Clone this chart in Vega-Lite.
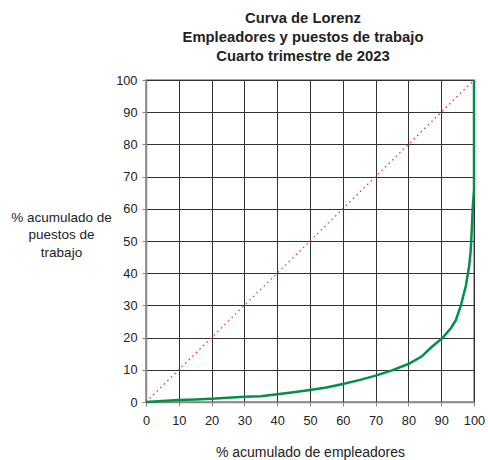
{
  "$schema": "https://vega.github.io/schema/vega-lite/v6.json",
  "autosize": "none",
  "width": 328,
  "height": 322,
  "padding": {"left": 146, "top": 80, "right": 14, "bottom": 58},
  "background": "white",
  "config": {
    "font": "Liberation Sans",
    "view": {"stroke": "#888888", "strokeWidth": 1.5}
  },
  "title": {
    "text": ["Curva de Lorenz", "Empleadores y puestos de trabajo", "Cuarto trimestre de 2023"],
    "fontSize": 14.8,
    "fontWeight": "bold",
    "color": "#222222",
    "lineHeight": 19,
    "anchor": "middle",
    "dx": -7,
    "offset": 10
  },
  "datasets": {
    "lorenz": [
      {"x": 0, "y": 0}, {"x": 5, "y": 0.3}, {"x": 10, "y": 0.6}, {"x": 15, "y": 0.8},
      {"x": 20, "y": 1.0}, {"x": 25, "y": 1.3}, {"x": 30, "y": 1.6}, {"x": 35, "y": 1.8},
      {"x": 40, "y": 2.4}, {"x": 45, "y": 3.0}, {"x": 50, "y": 3.7}, {"x": 55, "y": 4.5},
      {"x": 60, "y": 5.6}, {"x": 65, "y": 6.8}, {"x": 70, "y": 8.2}, {"x": 75, "y": 9.8},
      {"x": 80, "y": 11.8}, {"x": 84, "y": 14.1}, {"x": 87, "y": 17}, {"x": 90.5, "y": 20},
      {"x": 93, "y": 23}, {"x": 94.5, "y": 25.5}, {"x": 96, "y": 30}, {"x": 97.5, "y": 36},
      {"x": 98.5, "y": 42}, {"x": 99, "y": 47}, {"x": 99.3, "y": 53}, {"x": 99.6, "y": 60},
      {"x": 100, "y": 66}, {"x": 100, "y": 100}
    ],
    "diag": [{"x": 0, "y": 0}, {"x": 100, "y": 100}]
  },
  "encoding": {
    "x": {
      "field": "x", "type": "quantitative",
      "scale": {"domain": [0, 100], "nice": false},
      "axis": {
        "values": [0, 10, 20, 30, 40, 50, 60, 70, 80, 90, 100],
        "title": "% acumulado de empleadores",
        "titleFontSize": 14, "titleFontWeight": "normal", "titleColor": "#222222",
        "titleBaseline": "alphabetic", "titleY": 54,
        "labelFontSize": 12.8, "labelColor": "#222222", "labelPadding": 8,
        "labelFlush": false, "labelOverlap": false,
        "gridColor": "#333333", "gridWidth": 1, "gridOpacity": 1,
        "domainColor": "#888888", "domainWidth": 1.5,
        "tickColor": "#888888", "tickSize": 4
      }
    },
    "y": {
      "field": "y", "type": "quantitative",
      "scale": {"domain": [0, 100], "nice": false},
      "axis": {
        "values": [0, 10, 20, 30, 40, 50, 60, 70, 80, 90, 100],
        "title": ["% acumulado de", "puestos de", "trabajo"],
        "titleAngle": 0, "titleAlign": "center", "titleBaseline": "alphabetic",
        "titleX": -85, "titleY": 141, "titleLineHeight": 17.5,
        "titleFontSize": 13.5, "titleFontWeight": "normal", "titleColor": "#222222",
        "labelFontSize": 12.8, "labelColor": "#222222", "labelPadding": 5,
        "labelFlush": false, "labelOverlap": false,
        "gridColor": "#333333", "gridWidth": 1, "gridOpacity": 1,
        "domainColor": "#888888", "domainWidth": 1.5,
        "tickColor": "#888888", "tickSize": 4
      }
    }
  },
  "layer": [
    {
      "data": {"name": "diag"},
      "mark": {"type": "line", "color": "#ff2020", "strokeWidth": 1.2, "strokeDash": [1.5, 3.5]}
    },
    {
      "data": {"name": "lorenz"},
      "mark": {"type": "line", "color": "#00904a", "strokeWidth": 2.5}
    }
  ]
}
